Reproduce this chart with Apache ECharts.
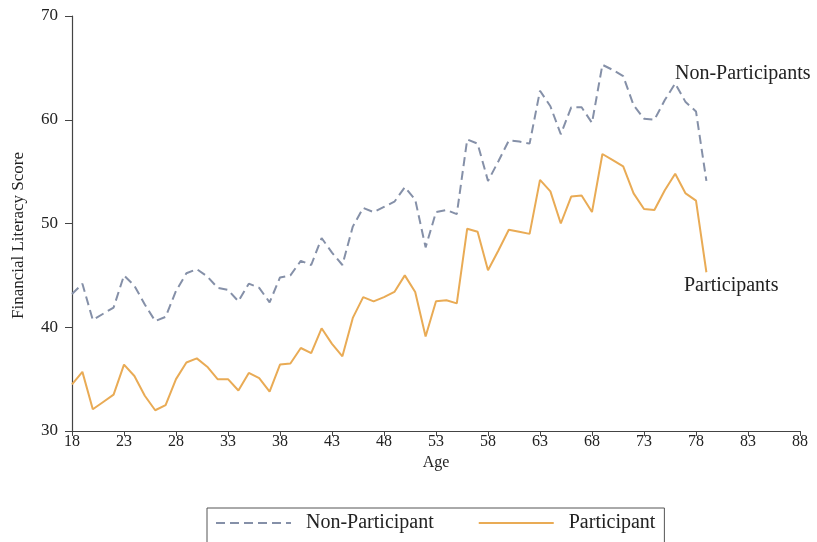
<!DOCTYPE html>
<html>
<head>
<meta charset="utf-8">
<script src="https://cdn.jsdelivr.net/npm/echarts@6/dist/echarts.min.js"></script>
<style>
html,body{margin:0;padding:0;background:#fff;}
#chart{width:817px;height:542px;}
</style>
</head>
<body>
<div id="chart"></div>
<script>
var ages = [];
for (var a = 18; a <= 79; a++) ages.push(a);

var nonParticipant = [
  43.2, 44.2, 40.7, 41.3, 41.9, 45.0, 44.0, 42.2, 40.6, 41.0,
  43.5, 45.2, 45.6, 44.9, 43.8, 43.6, 42.5, 44.2, 43.8, 42.4,
  44.8, 45.0, 46.4, 46.0, 48.6, 47.2, 46.0, 49.7, 51.5, 51.1,
  51.6, 52.1, 53.5, 52.3, 47.7, 51.1, 51.3, 50.9, 58.1, 57.7,
  54.1, 56.0, 58.0, 57.9, 57.7, 62.8, 61.3, 58.6, 61.2, 61.2,
  59.7, 65.3, 64.8, 64.2, 61.4, 60.1, 60.0, 61.9, 63.5, 61.7,
  60.8, 54.1
];

var participant = [
  34.5, 35.7, 32.1, 32.8, 33.5, 36.4, 35.3, 33.4, 32.0, 32.5,
  35.0, 36.6, 37.0, 36.2, 35.0, 35.0, 33.9, 35.6, 35.1, 33.8,
  36.4, 36.5, 38.0, 37.5, 39.9, 38.4, 37.2, 40.9, 42.9, 42.5,
  42.9, 43.4, 45.0, 43.4, 39.1, 42.5, 42.6, 42.3, 49.5, 49.2,
  45.5, 47.4, 49.4, 49.2, 49.0, 54.2, 53.1, 50.0, 52.6, 52.7,
  51.1, 56.7, 56.1, 55.5, 52.9, 51.4, 51.3, 53.2, 54.8, 52.9,
  52.2, 45.3
];

var seriesNames = ['Non-Participant', 'Participant'];
var endLabels = ['Non-Participants', 'Participants'];

function pairs(vals) {
  return vals.map(function (v, i) { return [ages[i], v]; });
}

var FONT = '"Liberation Serif", "DejaVu Serif", serif';
var chart = echarts.init(document.getElementById('chart'));
chart.setOption({
  animation: false,
  backgroundColor: '#ffffff',
  textStyle: { fontFamily: FONT, color: '#222' },
  grid: { left: 72, right: 17, top: 16, bottom: 111, containLabel: false },
  xAxis: {
    type: 'value', min: 18, max: 88, interval: 5,
    name: 'Age', nameLocation: 'middle', nameGap: 17,
    nameTextStyle: { fontFamily: FONT, fontSize: 16, color: '#222' },
    axisLine: { show: true, onZero: false, lineStyle: { color: '#444', width: 1.2 } },
    axisTick: { show: true, length: 5, lineStyle: { color: '#444' } },
    axisLabel: { fontFamily: FONT, fontSize: 16, color: '#222', margin: 3 },
    splitLine: { show: false }
  },
  yAxis: {
    type: 'value', min: 30, max: 70, interval: 10,
    name: 'Financial Literacy Score', nameLocation: 'middle', nameGap: 45, nameRotate: 90,
    nameTextStyle: { fontFamily: FONT, fontSize: 17, color: '#222', padding: [0, 24, 0, 0] },
    axisLine: { show: true, onZero: false, lineStyle: { color: '#444', width: 1.2 } },
    axisTick: { show: true, length: 7, lineStyle: { color: '#444' } },
    axisLabel: { fontFamily: FONT, fontSize: 17, color: '#222', margin: 14 },
    splitLine: { show: false }
  },
  legend: {
    left: 207, top: 508,
    itemWidth: 75, itemHeight: 14, itemGap: 44,
    padding: [5, 9, 20, 8],
    borderColor: '#555', borderWidth: 1, borderRadius: 0,
    itemStyle: { opacity: 0 },
    textStyle: { fontFamily: FONT, fontSize: 20, color: '#222', padding: [0, 0, 0, 10] },
    data: seriesNames
  },
  series: [
    {
      name: seriesNames[0], type: 'line', symbol: 'none',
      data: pairs(nonParticipant),
      lineStyle: { color: '#8590a8', width: 2, type: [9, 5] },
      itemStyle: { color: '#8590a8' }
    },
    {
      name: seriesNames[1], type: 'line', symbol: 'none',
      data: pairs(participant),
      lineStyle: { color: '#e9ab55', width: 2, type: 'solid' },
      itemStyle: { color: '#e9ab55' }
    }
  ],
  graphic: [
    { type: 'text', left: 675, top: 64, style: { text: endLabels[0], font: '20px ' + FONT, fill: '#222' } },
    { type: 'text', left: 684, top: 276, style: { text: endLabels[1], font: '20px ' + FONT, fill: '#222' } }
  ]
});
</script>
</body>
</html>
